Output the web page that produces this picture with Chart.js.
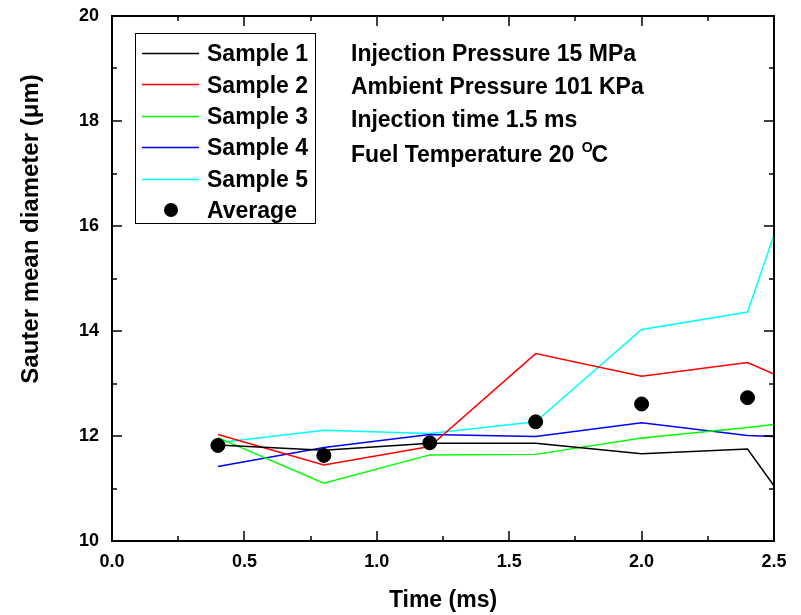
<!DOCTYPE html>
<html lang="en">
<head>
  <meta charset="UTF-8">
  <title>Sauter mean diameter vs time</title>
  <script src="https://cdn.jsdelivr.net/npm/chart.js"></script>
  <style>
    body {
      margin: 0;
      background: #fff;
    }
    #wrap {
      width: 801px;
      height: 615px;
    }
  </style>
</head>
<body>
  <div id="wrap"><canvas id="smdChart" width="801" height="615"></canvas></div>

  <script>
    // time (ms) at which each sample was measured
    const times = [0.4, 0.8, 1.2, 1.6, 2.0, 2.4, 2.5];
    const sample1 = [11.83, 11.73, 11.86, 11.86, 11.66, 11.75, 11.05];
    const sample2 = [12.03, 11.45, 11.80, 13.57, 13.14, 13.40, 13.18];
    const sample3 = [11.97, 11.10, 11.64, 11.65, 11.96, 12.16, 12.22];
    const sample4 = [11.42, 11.78, 12.03, 11.99, 12.25, 12.01, 11.99];
    const sample5 = [11.87, 12.11, 12.05, 12.27, 14.03, 14.36, 15.83];
    const avgTimes = [0.4, 0.8, 1.2, 1.6, 2.0, 2.4];
    const average = [11.82, 11.63, 11.87, 12.27, 12.61, 12.73];

    const sampleNames = ['Sample 1', 'Sample 2', 'Sample 3', 'Sample 4', 'Sample 5'];
    const sampleColors = ['#000000', '#ff0000', '#00ff00', '#0000ff', '#00ffff'];
    const notes = ['Injection Pressure 15 MPa', 'Ambient Pressure 101 KPa', 'Injection time 1.5 ms', 'Fuel Temperature 20 '];
    const yTitle = 'Sauter mean diameter (μm)';

    const FONT = '"Liberation Sans", Arial, sans-serif';
    Chart.defaults.color = '#000';
    Chart.defaults.font.family = FONT;

    const toXY = (xs, ys) => xs.map((x, i) => ({ x: x, y: ys[i] }));
    const samples = [sample1, sample2, sample3, sample4, sample5];

    const datasets = samples.map((s, i) => ({
      label: sampleNames[i],
      data: toXY(times, s),
      borderColor: sampleColors[i],
      backgroundColor: sampleColors[i],
      borderWidth: 1.5,
      pointRadius: 0,
      tension: 0,
      order: 1
    }));
    datasets.push({
      label: 'Average',
      data: toXY(avgTimes, average),
      showLine: false,
      pointRadius: 7,
      pointBackgroundColor: '#000',
      pointBorderColor: '#000',
      order: 0
    });

    // frame + inward ticks on all four sides
    const frameTicks = {
      id: 'frameTicks',
      afterDraw(chart) {
        const { ctx, chartArea: a, scales } = chart;
        ctx.save();
        ctx.strokeStyle = '#000';
        ctx.lineWidth = 2;
        ctx.strokeRect(a.left, a.top, a.right - a.left, a.bottom - a.top);
        ctx.lineWidth = 1.5;
        ctx.beginPath();
        for (let v = 0; v <= 2.5001; v += 0.25) {
          const px = Math.round(scales.x.getPixelForValue(v));
          const len = Math.abs(v / 0.5 - Math.round(v / 0.5)) < 1e-6 ? 10 : 5;
          ctx.moveTo(px, a.bottom); ctx.lineTo(px, a.bottom - len);
          ctx.moveTo(px, a.top); ctx.lineTo(px, a.top + len);
        }
        for (let v = 10; v <= 20; v += 1) {
          const py = Math.round(scales.y.getPixelForValue(v));
          const len = v % 2 === 0 ? 10 : 5;
          ctx.moveTo(a.left, py); ctx.lineTo(a.left + len, py);
          ctx.moveTo(a.right, py); ctx.lineTo(a.right - len, py);
        }
        ctx.stroke();

        // y axis title sits a bit above the middle, as in the original
        ctx.translate(31, 229);
        ctx.rotate(-Math.PI / 2);
        ctx.fillStyle = '#000';
        ctx.font = 'bold 24px ' + FONT;
        ctx.textAlign = 'center';
        ctx.textBaseline = 'middle';
        ctx.fillText(yTitle, 0, 0);
        ctx.restore();
      }
    };

    // boxed legend inside the plot, plus the condition notes
    const boxLegend = {
      id: 'boxLegend',
      afterDraw(chart) {
        const ctx = chart.ctx;
        ctx.save();
        ctx.strokeStyle = '#000';
        ctx.lineWidth = 1;
        ctx.strokeRect(135.5, 33.5, 180, 190);
        ctx.font = 'bold 23px ' + FONT;
        ctx.textBaseline = 'alphabetic';
        ctx.textAlign = 'left';
        chart.data.datasets.forEach((ds, i) => {
          const y = 53 + i * 31.4;
          if (ds.showLine === false) {
            ctx.fillStyle = '#000';
            ctx.beginPath();
            ctx.arc(171, y, 7, 0, Math.PI * 2);
            ctx.fill();
          } else {
            ctx.strokeStyle = ds.borderColor;
            ctx.lineWidth = 1.5;
            ctx.beginPath();
            ctx.moveTo(142, Math.round(y) + 0.5);
            ctx.lineTo(199, Math.round(y) + 0.5);
            ctx.stroke();
          }
          ctx.fillStyle = '#000';
          ctx.fillText(ds.label, 207, y + 8.2);
        });

        const centers = [53, 86, 119, 154];
        notes.forEach((t, i) => {
          ctx.font = 'bold 23px ' + FONT;
          ctx.fillText(t, 351, centers[i] + 8.2);
          if (i === 3) {
            let x = 351 + ctx.measureText(t).width + 1;
            ctx.font = 'bold 14px ' + FONT;
            ctx.fillText('O', x, centers[i] - 2);
            x += ctx.measureText('O').width - 1;
            ctx.font = 'bold 23px ' + FONT;
            ctx.fillText('C', x, centers[i] + 8.2);
          }
        });
        ctx.restore();
      }
    };

    new Chart(document.getElementById('smdChart'), {
      type: 'line',
      data: { datasets: datasets },
      options: {
        responsive: false,
        animation: false,
        layout: { padding: { top: 16, right: 27, left: 0, bottom: 0 } },
        plugins: {
          legend: { display: false },
          tooltip: { enabled: false }
        },
        scales: {
          x: {
            type: 'linear',
            min: 0,
            max: 2.5,
            grid: { display: false, drawTicks: false },
            border: { display: false },
            ticks: {
              stepSize: 0.5,
              padding: 10,
              maxRotation: 0,
              font: { size: 18, weight: 'bold' },
              callback: v => v.toFixed(1)
            },
            title: {
              display: true,
              text: 'Time (ms)',
              font: { size: 23, weight: 'bold' },
              padding: { top: 0, bottom: 1 }
            },
            afterFit(scale) {
              scale.height = 74;
              scale.paddingLeft = 0;
              scale.paddingRight = 0;
            }
          },
          y: {
            min: 10,
            max: 20,
            grid: { display: false, drawTicks: false },
            border: { display: false },
            ticks: {
              stepSize: 2,
              padding: 13,
              font: { size: 18, weight: 'bold' }
            },
            afterFit(scale) {
              scale.width = 112;
              scale.paddingTop = 0;
              scale.paddingBottom = 0;
            }
          }
        }
      },
      plugins: [frameTicks, boxLegend]
    });
  </script>
</body>
</html>
